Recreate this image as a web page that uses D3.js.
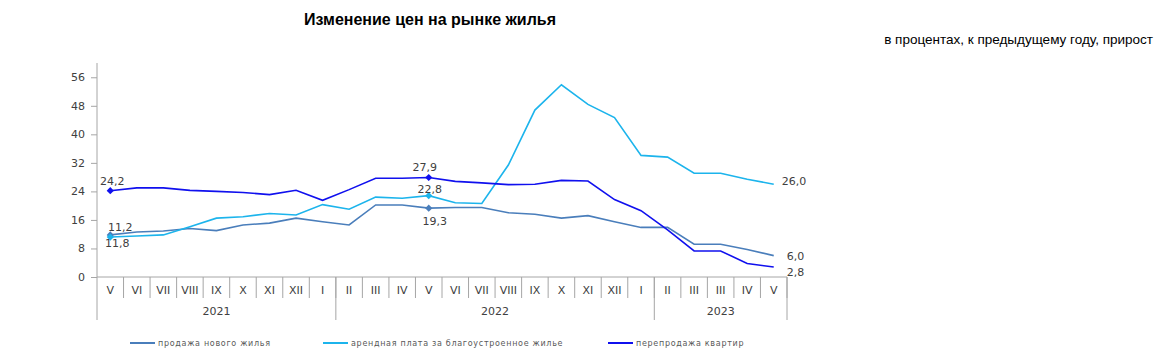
<!DOCTYPE html>
<html>
<head>
<meta charset="utf-8">
<script src="https://cdn.jsdelivr.net/npm/d3@7"></script>
<style>
  body { margin: 0; background: #fff; }
  svg { display: block; }
</style>
</head>
<body>
<svg id="chart" width="1154" height="354"></svg>
<script>
// Data
const months = ["V","VI","VII","VIII","IX","X","XI","XII","I","II","III","IV","V",
  "VI","VII","VIII","IX","X","XI","XII","I","II","III","III","IV","V"];
const yearGroups = [["2021", 9], ["2022", 12], ["2023", 5]];
const newHousing = [11.8,12.6,12.9,13.6,13.0,14.6,15.1,16.5,15.5,14.6,20.2,20.2,19.3,
  19.5,19.5,18.0,17.6,16.5,17.2,15.5,13.9,13.9,9.2,9.2,7.7,6.0];
const rent = [11.2,11.5,11.8,14.1,16.5,16.9,17.8,17.4,20.3,19.0,22.4,22.1,22.8,
  20.8,20.6,31.4,46.8,53.9,48.4,44.7,34.1,33.6,29.1,29.1,27.4,26.0];
const resale = [24.2,25.0,25.0,24.3,24.0,23.7,23.1,24.3,21.5,24.5,27.7,27.7,27.9,
  26.8,26.4,25.9,26.0,27.1,26.9,21.7,18.6,13.2,7.3,7.3,3.8,2.8];
const yTicks = [0, 8, 16, 24, 32, 40, 48, 56];

const series = [
  {name: "продажа нового жилья", values: newHousing, color: "#4a7ebb"},
  {name: "арендная плата за благоустроенное жилье", values: rent, color: "#1cb4ec"},
  {name: "перепродажа квартир", values: resale, color: "#1010ee"}
];

// labels: series index, point index, dx, dy, anchor
const pointLabels = [
  [2, 0, 2, -6, "middle"], [1, 0, 10, -6, "middle"], [0, 0, 7, 12, "middle"],
  [2, 12, -4, -6, "middle"], [1, 12, 1, -3, "middle"], [0, 12, 6, 17, "middle"],
  [1, 25, 8, 1, "start"], [0, 25, 13, 4, "start"], [2, 25, 13, 9, "start"]
];

const svg = d3.select("#chart");
const plot = {left: 97, right: 787, top: 63, bottom: 277};
const gray = "#a6a6a6", textGray = "#404040";
const font = "DejaVu Sans, Verdana, sans-serif";

const x = d3.scaleBand().domain(d3.range(months.length)).range([plot.left, plot.right]);
const y = d3.scaleLinear().domain([0, 60]).range([plot.bottom, plot.top]);

// title
svg.append("text").attr("x", 430).attr("y", 25).attr("text-anchor", "middle")
  .style("font-family", "Liberation Sans Narrow, Arial Narrow, sans-serif")
  .style("font-weight", "bold").style("font-size", "16px").attr("fill", "#000")
  .text("Изменение цен на рынке жилья");
svg.append("text").attr("x", 1153).attr("y", 44).attr("text-anchor", "end")
  .style("font-family", "Liberation Sans Narrow, Arial Narrow, sans-serif")
  .style("font-size", "13.5px").attr("fill", "#000")
  .text("в процентах, к предыдущему году, прирост");

// y axis
const yAxis = d3.axisLeft(y).tickValues(yTicks).tickSize(6).tickPadding(6);
const gy = svg.append("g").attr("transform", `translate(${plot.left},0)`).call(yAxis);
gy.select(".domain").remove();
gy.selectAll("line").attr("stroke", gray);
gy.selectAll("text").attr("fill", textGray).style("font-family", font).style("font-size", "11px");
svg.append("line").attr("x1", plot.left).attr("x2", plot.left).attr("y1", plot.top).attr("y2", 320)
  .attr("stroke", gray);

// x axis
svg.append("line").attr("x1", plot.left).attr("x2", plot.right)
  .attr("y1", plot.bottom).attr("y2", plot.bottom).attr("stroke", gray);
const gx = svg.append("g");
gx.selectAll("line.sep").data(d3.range(1, months.length + 1)).enter().append("line")
  .attr("x1", i => x(i - 1) + x.bandwidth()).attr("x2", i => x(i - 1) + x.bandwidth())
  .attr("y1", plot.bottom).attr("y2", 298).attr("stroke", gray);
gx.selectAll("text").data(months).enter().append("text")
  .attr("x", (d, i) => x(i) + x.bandwidth() / 2).attr("y", 294)
  .attr("text-anchor", "middle").attr("fill", textGray)
  .style("font-family", font).style("font-size", "11px").text(d => d);

let start = 0;
yearGroups.forEach(([yr, n]) => {
  const x0 = x(start), x1 = x(start + n - 1) + x.bandwidth();
  svg.append("line").attr("x1", x1).attr("x2", x1).attr("y1", plot.bottom).attr("y2", 320)
    .attr("stroke", gray);
  svg.append("text").attr("x", (x0 + x1) / 2).attr("y", 315).attr("text-anchor", "middle")
    .attr("fill", textGray).style("font-family", font).style("font-size", "11px").text(yr);
  start += n;
});

// lines
const line = d3.line().x((d, i) => x(i) + x.bandwidth() / 2).y(d => y(d));
series.forEach(s => {
  svg.append("path").datum(s.values).attr("d", line).attr("fill", "none")
    .attr("stroke", s.color).attr("stroke-width", 1.6);
  [0, 12].forEach(i => {
    svg.append("path").attr("d", d3.symbol(d3.symbolSquare, 26)())
      .attr("transform", `translate(${x(i) + x.bandwidth() / 2},${y(s.values[i])}) rotate(45)`)
      .attr("fill", s.color);
  });
});

// point labels
pointLabels.forEach(([si, pi, dx, dy, anchor]) => {
  const v = series[si].values[pi];
  svg.append("text").attr("x", x(pi) + x.bandwidth() / 2 + dx).attr("y", y(v) + dy)
    .attr("text-anchor", anchor).attr("fill", textGray)
    .style("font-family", font).style("font-size", "11px")
    .text(v.toFixed(1).replace(".", ","));
});

// legend
const legendX = [130, 323, 608];
series.forEach((s, i) => {
  svg.append("line").attr("x1", legendX[i]).attr("x2", legendX[i] + 25)
    .attr("y1", 343).attr("y2", 343).attr("stroke", s.color).attr("stroke-width", 2);
  svg.append("text").attr("x", legendX[i] + 28).attr("y", 346)
    .attr("fill", "#595959").style("font-family", font).style("font-size", "8px")
    .style("letter-spacing", "0.7px")
    .text(s.name);
});
</script>
</body>
</html>
